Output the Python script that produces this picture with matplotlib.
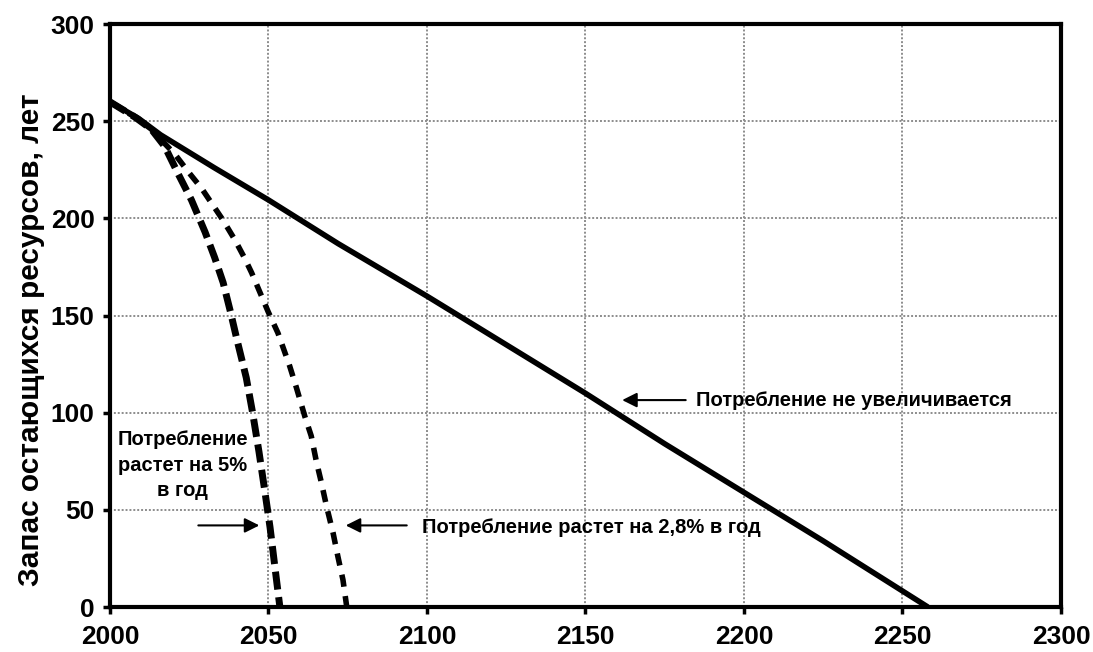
import matplotlib.pyplot as plt

plt.rcParams['font.family'] = ['Liberation Sans', 'DejaVu Sans']

# Потребление не увеличивается
years_flat = [2000, 2009, 2016, 2033, 2050, 2072, 2100, 2125, 2150, 2175, 2200, 2225, 2258]
stock_flat = [260, 251.5, 243, 226, 209.5, 187, 160, 135, 110, 84, 59, 34, 0]

# Потребление растет на 2,8% в год
years_28 = [2000, 2008, 2013, 2017, 2020.5, 2024.7, 2028.9, 2032, 2035.7, 2039.4, 2042.5,
            2044.7, 2047.3, 2049.9, 2053, 2056.7, 2058.8, 2061.5, 2063.5, 2065.1, 2066.7,
            2068.3, 2070.4, 2071.9, 2073.5, 2074.7]
stock_28 = [260, 252, 246, 239, 233, 224, 215.5, 208, 199, 189, 179.5,
            172, 162, 152, 141, 124, 113, 98, 88, 75, 64,
            52, 38, 26, 14, 0]

# Потребление растет на 5% в год
years_5 = [2000, 2008, 2013, 2017.3, 2021.5, 2025.7, 2030, 2033, 2035.7, 2038, 2040,
           2043, 2045, 2047, 2049, 2050.5, 2052, 2053.6]
stock_5 = [260, 252, 246, 237, 223, 209.5, 193, 180, 167, 152, 138,
           118, 100, 80, 58, 41, 21, 0]

x_ticks = [2000, 2050, 2100, 2150, 2200, 2250, 2300]
y_ticks = [0, 50, 100, 150, 200, 250, 300]

fig = plt.figure(figsize=(10.93, 6.52), dpi=100)
ax = fig.add_axes([0.1006, 0.069, 0.8701, 0.894])

ax.plot(years_flat, stock_flat, color='black', lw=4, solid_capstyle='butt', zorder=3)
ax.plot(years_28, stock_28, color='black', lw=4, ls=(0, (2.2, 1.7)), zorder=3)
ax.plot(years_5, stock_5, color='black', lw=5, ls=(0, (2.6, 1.1)), zorder=3)

ax.set_xlim(2000, 2300)
ax.set_ylim(0, 300)
ax.set_xticks(x_ticks)
ax.set_yticks(y_ticks)
ax.grid(True, color='#8c8c8c', lw=1.4, ls=(0, (1, 1)), zorder=0)
for s in ax.spines.values():
    s.set_linewidth(3)
ax.tick_params(axis='both', direction='out', length=5, width=2.5, labelsize=19)
ax.tick_params(axis='x', pad=8)
ax.tick_params(axis='y', pad=6)
for lab in ax.get_xticklabels() + ax.get_yticklabels():
    lab.set_fontweight('bold')

ax.set_ylabel('Запас остающихся ресурсов, лет', fontsize=21.5, fontweight='bold')
ax.yaxis.set_label_coords(-0.068, 0.458)

note_font = dict(fontsize=14.5, fontweight='bold')
arrow = dict(arrowstyle='-|>', color='black', lw=1.5, mutation_scale=22)

ax.annotate('', xy=(2160.7, 106.5), xytext=(2182.5, 106.5), arrowprops=arrow)
ax.text(2185, 106.5, 'Потребление не увеличивается', ha='left', va='center', **note_font)

ax.annotate('', xy=(2048, 42), xytext=(2027, 42), arrowprops=arrow)
ax.text(2023, 73, 'Потребление\nрастет на 5%\nв год', ha='center', va='center',
        linespacing=1.45, **note_font)

ax.annotate('', xy=(2073.5, 42), xytext=(2094.5, 42), arrowprops=arrow)
ax.text(2098.5, 41, 'Потребление растет на 2,8% в год', ha='left', va='center', **note_font)

fig.savefig('out.png', dpi=100)
